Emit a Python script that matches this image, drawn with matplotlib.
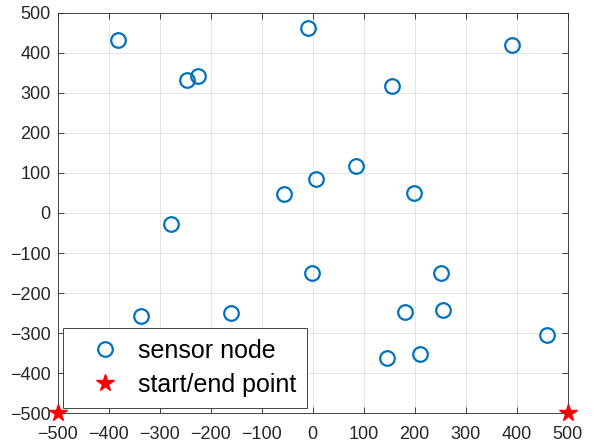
import matplotlib
matplotlib.use('Agg')
import matplotlib.pyplot as plt

# ── Data ──────────────────────────────────────────────────────────────────────
node_x = [-382, -246, -224, -56, -277, -10, 391, 155, 85, 6, 199,
          -337, -160, -1, 252, 180, 255, 460, 146, 210]
node_y = [432, 332, 343, 48, -27, 462, 420, 316, 117, 86, 51,
          -258, -250, -151, -149, -247, -243, -305, -363, -353]
depot_x = [-500, 500]
depot_y = [-500, -500]

plt.rcParams['font.family'] = ['Liberation Sans', 'DejaVu Sans']

fig = plt.figure(figsize=(6, 4.48), dpi=100)
ax = fig.add_axes([0.0962, 0.0775, 0.8500, 0.8942])

ax.plot(node_x, node_y, 'o', mfc='none', mec='#0072BD', mew=1.6, ms=10.5,
        ls='none', label='sensor node')
ax.plot(depot_x, depot_y, '*', color='#FF0000', ms=13, ls='none',
        clip_on=False, zorder=5, label='start/end point')

ax.set_xlim(-500, 500); ax.set_ylim(-500, 500)
ax.set_xticks(range(-500, 501, 100)); ax.set_yticks(range(-500, 501, 100))
ax.tick_params(direction='in', top=True, right=True, length=4,
               labelsize=13, colors='#262626', width=0.6)
ax.tick_params(axis='x', pad=9)
ax.tick_params(axis='y', pad=5)
for s in ax.spines.values():
    s.set_color('#262626'); s.set_linewidth(0.6)
ax.grid(True, color='#DFDFDF', linewidth=0.6)
ax.set_axisbelow(True)

leg = ax.legend(loc='lower left', fontsize=18, frameon=True, fancybox=False,
                edgecolor='#262626', framealpha=1, borderaxespad=0.2,
                handlelength=2.5, handletextpad=0.05, labelspacing=0.4,
                borderpad=0.45)
leg.get_frame().set_linewidth(0.6)

plt.savefig('out.png', dpi=100)
